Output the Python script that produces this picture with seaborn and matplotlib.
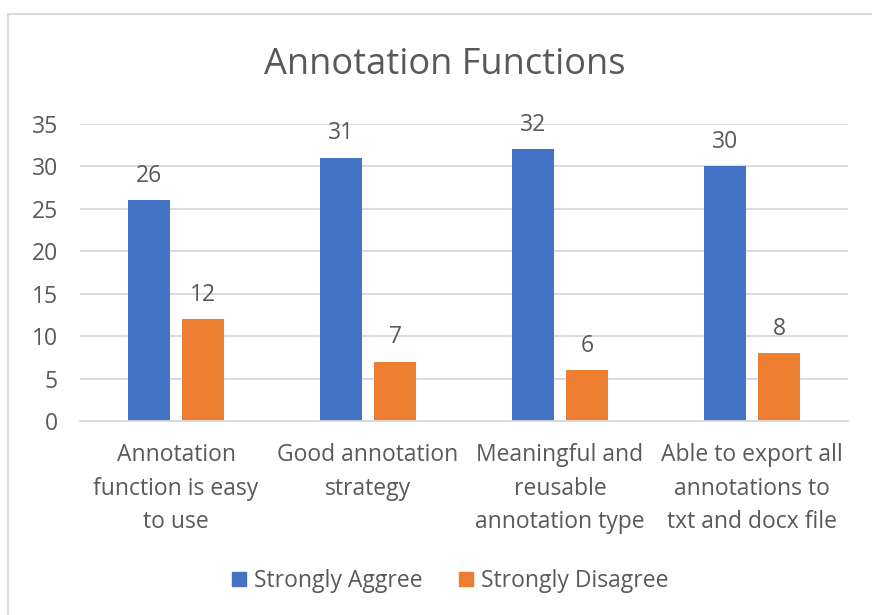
import matplotlib
matplotlib.use("Agg")
import matplotlib.pyplot as plt
import seaborn as sns
import pandas as pd
from matplotlib.lines import Line2D

# ---- data ----
categories = [
    "Annotation function is easy to use",
    "Good annotation strategy",
    "Meaningful and reusable annotation type",
    "Able to export all annotations to txt and docx file",
]
tick_labels = [
    "Annotation\nfunction is easy\nto use",
    "Good annotation\nstrategy",
    "Meaningful and\nreusable\nannotation type",
    "Able to export all\nannotations to\ntxt and docx file",
]
series_names = ["Strongly Aggree", "Strongly Disagree"]
agree = [26, 31, 32, 30]
disagree = [12, 7, 6, 8]
title = "Annotation Functions"
y_ticks = [0, 5, 10, 15, 20, 25, 30, 35]

df = pd.DataFrame({
    "category": categories * 2,
    "series": [series_names[0]] * 4 + [series_names[1]] * 4,
    "value": agree + disagree,
})

sns.set_theme(style="white")
plt.rcParams["font.family"] = ["Open Sans", "DejaVu Sans"]
TXT = "#595959"
GRID = "#D9D9D9"
FS = 16.5

fig = plt.figure(figsize=(8.72, 6.15), dpi=100)
ax = fig.add_axes([80 / 872, 1 - 421 / 615, (848 - 80) / 872, (421 - 124) / 615])

sns.barplot(data=df, x="category", y="value", hue="series", order=categories,
            hue_order=series_names, palette=["#4472C4", "#ED7D31"],
            width=0.5625, gap=0.222, ax=ax, legend=True, saturation=1,
            linewidth=0, edgecolor="none")

ax.set_ylim(0, 35)
ax.set_xlim(-0.5, 3.5)
ax.set_yticks(y_ticks)
ax.yaxis.grid(True, color=GRID, linewidth=1.3)
ax.set_axisbelow(True)
for s in ["top", "right", "left"]:
    ax.spines[s].set_visible(False)
ax.spines["bottom"].set_color(GRID)
ax.spines["bottom"].set_linewidth(1.3)
ax.tick_params(axis="both", length=0, colors=TXT, labelsize=FS)
ax.tick_params(axis="y", pad=16)
ax.tick_params(axis="x", pad=16)
ax.set_xticks(range(len(categories)))
ax.set_xticklabels(tick_labels, color=TXT, fontsize=FS, linespacing=1.52)
ax.set_xlabel("")
ax.set_ylabel("")

for cont in ax.containers:
    ax.bar_label(cont, padding=9, color=TXT, fontsize=FS)

ax.legend_.remove()
handles = [plt.Rectangle((0, 0), 1, 1, color=c) for c in ["#4472C4", "#ED7D31"]]
fig.legend(handles, series_names, loc="center", bbox_to_anchor=(450 / 872, 1 - 581 / 615),
           ncol=2, frameon=False, fontsize=FS, handlelength=0.6, handleheight=0.6,
           handletextpad=0.35, columnspacing=1.6, labelcolor=TXT)

fig.text(445 / 872, 1 - 65 / 615, title, ha="center", va="center", fontsize=26, color=TXT)

# chart frame (left and top edges visible)
fig.add_artist(Line2D([8 / 872, 8 / 872], [1 - 14 / 615, -0.1], transform=fig.transFigure,
                      color=GRID, linewidth=1.5))
fig.add_artist(Line2D([8 / 872, 1.1], [1 - 14 / 615, 1 - 14 / 615], transform=fig.transFigure,
                      color=GRID, linewidth=1.5))

fig.savefig("out.png", dpi=100)
